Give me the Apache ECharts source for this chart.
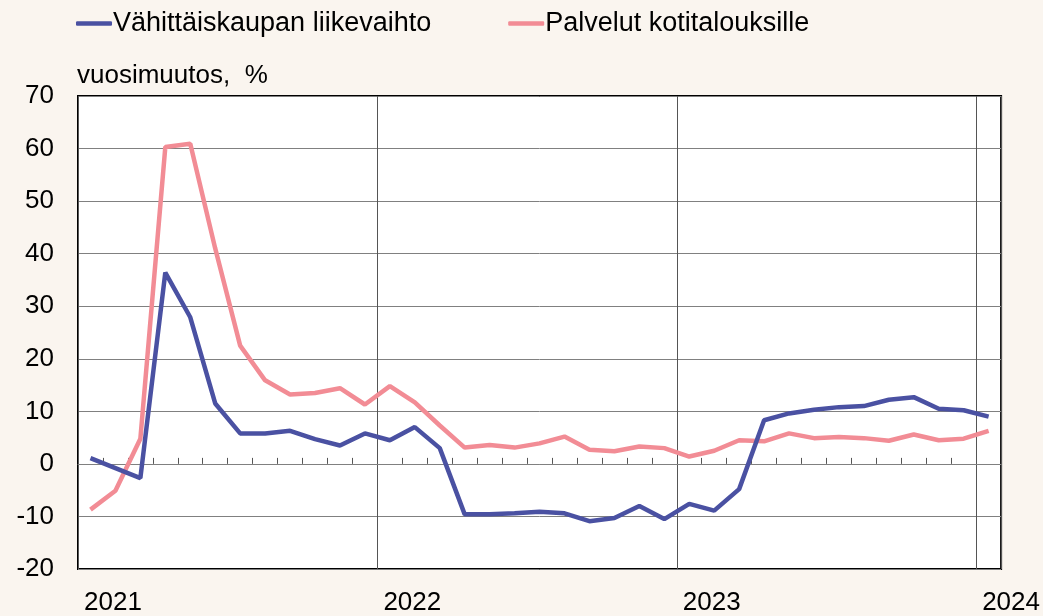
<!DOCTYPE html>
<html>
<head>
<meta charset="utf-8">
<script src="https://cdn.jsdelivr.net/npm/echarts@6/dist/echarts.min.js"></script>
<style>
html,body{margin:0;padding:0;background:#faf5ef;}
#chart{width:1043px;height:616px;}
</style>
</head>
<body>
<div id="chart"></div>
<script>
// Months Jan 2021 .. Jan 2024
var months = [];
for (var y = 2021; y <= 2024; y++) {
  for (var m = 1; m <= 12; m++) {
    if (y === 2024 && m > 1) break;
    months.push(y + '-' + (m < 10 ? '0' + m : m));
  }
}
var seriesNames = ['Vähittäiskaupan liikevaihto', 'Palvelut kotitalouksille'];
var retail = [1.1, -0.8, -2.7, 36.4, 27.9, 11.5, 5.8, 5.8, 6.3, 4.7, 3.5, 5.8,
  4.5, 7.0, 3.0, -9.6, -9.6, -9.4, -9.1, -9.4, -10.9, -10.3, -8.0, -10.5,
  -7.6, -8.9, -4.8, 8.3, 9.6, 10.3, 10.8, 11.0, 12.2, 12.7, 10.5, 10.2, 9.0];
var services = [-8.7, -5.1, 4.8, 60.3, 60.9, 41.0, 22.5, 15.9, 13.2, 13.5, 14.4, 11.3,
  14.8, 11.7, 7.3, 3.1, 3.6, 3.1, 3.9, 5.2, 2.7, 2.4, 3.3, 3.0,
  1.4, 2.5, 4.5, 4.3, 5.8, 4.9, 5.1, 4.9, 4.4, 5.6, 4.5, 4.8, 6.3];
var yearLabels = {0: '2021', 12: '2022', 24: '2023', 36: '2024'};
var yTitle = 'vuosimuutos,  %';

var FONT = '"Liberation Sans", Arial, Helvetica, sans-serif';
var chart = echarts.init(document.getElementById('chart'));
chart.setOption({
  backgroundColor: '#faf5ef',
  animation: false,
  textStyle: {fontFamily: FONT},
  legend: {
    data: seriesNames,
    left: 76,
    top: 10,
    padding: 0,
    icon: 'roundRect',
    itemWidth: 36,
    itemHeight: 4.5,
    itemGap: 77,
    textStyle: {fontSize: 27, color: '#000', fontFamily: FONT, padding: [0, 0, 0, -4]}
  },
  graphic: [{
    type: 'text',
    left: 77,
    top: 63,
    style: {text: yTitle, fontSize: 26, fill: '#000', font: '26px ' + FONT}
  }],
  grid: {
    left: 78, right: 40, top: 96, bottom: 45,
    show: true,
    backgroundColor: '#fff',
    borderColor: '#000',
    borderWidth: 2
  },
  xAxis: [{
    type: 'category',
    data: months,
    boundaryGap: true,
    position: 'bottom',
    axisLine: {show: true, onZero: true, lineStyle: {color: '#808080', width: 1}},
    axisTick: {
      show: true, inside: true, length: 6,
      interval: function (i) { return i % 12 !== 0; },
      lineStyle: {color: '#555', width: 1}
    },
    axisLabel: {show: false},
    splitLine: {show: false}
  }, {
    type: 'value',
    min: 0, max: 37, interval: 12,
    position: 'bottom',
    axisLine: {show: false},
    axisTick: {show: false},
    axisLabel: {
      show: true,
      formatter: function (v) { return yearLabels[v] || ''; },
      align: 'left',
      padding: [0, 0, 0, 6],
      margin: 21,
      fontSize: 26,
      color: '#000',
      fontFamily: FONT
    },
    splitLine: {show: true, lineStyle: {color: '#555', width: 1}}
  }],
  yAxis: {
    type: 'value',
    min: -20, max: 70, interval: 10,
    axisLine: {show: false},
    axisTick: {show: false},
    axisLabel: {fontSize: 26, color: '#000', margin: 24, fontFamily: FONT},
    splitLine: {show: true, lineStyle: {color: '#808080', width: 1}}
  },
  series: [{
    name: seriesNames[0],
    type: 'line',
    xAxisIndex: 0,
    data: retail,
    symbol: 'none',
    z: 4,
    lineStyle: {color: '#4a51a2', width: 4.5},
    itemStyle: {color: '#4a51a2'}
  }, {
    name: seriesNames[1],
    type: 'line',
    xAxisIndex: 0,
    data: services,
    symbol: 'none',
    z: 3,
    lineStyle: {color: '#f28c95', width: 4.5},
    itemStyle: {color: '#f28c95'}
  }]
});
</script>
</body>
</html>
